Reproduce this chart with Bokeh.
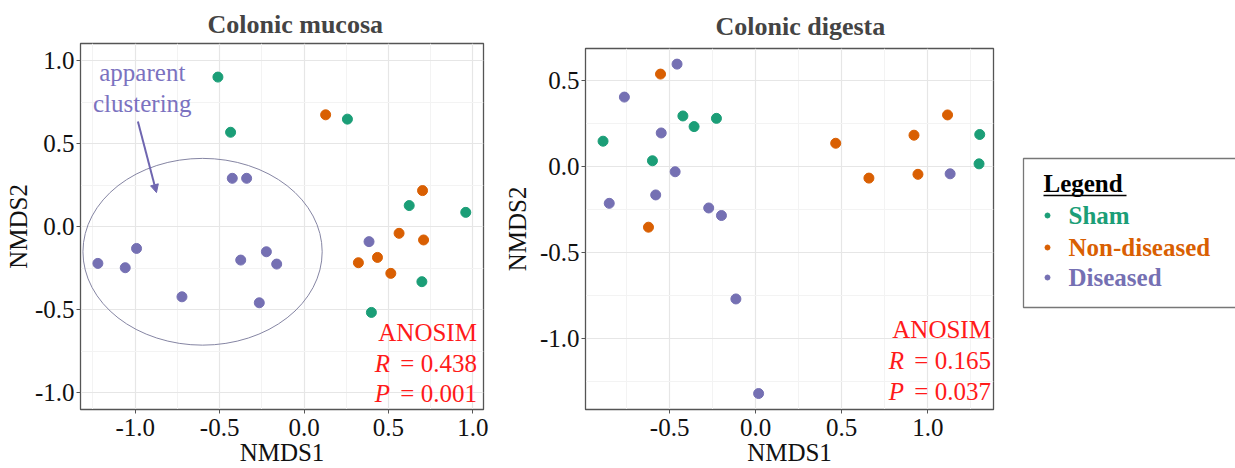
from bokeh.plotting import figure
from bokeh.layouts import row, column
from bokeh.models import Range1d, FixedTicker, Arrow, NormalHead, Label
from bokeh.core.properties import value
from bokeh.embed import file_html
from bokeh.resources import INLINE

FONT = "Liberation Serif"

groups = ["Sham", "Non-diseased", "Diseased"]
colors = ["#1b9e77", "#d95f02", "#7570b3"]

# ---- Colonic mucosa (NMDS1, NMDS2) ----
muc_sham_x = [-0.510, -0.435, 0.257, 0.623, 0.958, 0.698, 0.399]
muc_sham_y = [0.900, 0.568, 0.647, 0.127, 0.086, -0.331, -0.516]
muc_non_x = [0.128, 0.702, 0.563, 0.708, 0.322, 0.435, 0.514]
muc_non_y = [0.673, 0.217, -0.040, -0.080, -0.217, -0.185, -0.281]
muc_dis_x = [-0.425, -0.340, 0.385, -0.992, -1.221, -1.059, -0.723, -0.375, -0.223, -0.162, -0.265]
muc_dis_y = [0.291, 0.291, -0.090, -0.131, -0.221, -0.247, -0.422, -0.201, -0.151, -0.225, -0.458]

# ---- Colonic digesta ----
dig_sham_x = [-0.887, -0.600, -0.423, -0.358, -0.228, 1.302, 1.298]
dig_sham_y = [0.147, 0.033, 0.294, 0.232, 0.280, 0.186, 0.015]
dig_non_x = [-0.553, -0.623, 0.465, 0.658, 0.920, 0.943, 1.115]
dig_non_y = [0.538, -0.354, 0.135, -0.068, 0.182, -0.046, 0.300]
dig_dis_x = [-0.457, -0.763, -0.549, -0.468, -0.581, -0.851, -0.273, -0.199, -0.115, 0.017, 1.130]
dig_dis_y = [0.596, 0.404, 0.195, -0.031, -0.166, -0.215, -0.242, -0.286, -0.772, -1.323, -0.043]

# ticks
muc_xticks = [-1.0, -0.5, 0.0, 0.5, 1.0]
muc_xlabels = ["-1.0", "-0.5", "0.0", "0.5", "1.0"]
muc_yticks = [-1.0, -0.5, 0.0, 0.5, 1.0]
muc_ylabels = ["-1.0", "-0.5", "0.0", "0.5", "1.0"]
dig_xticks = [-0.5, 0.0, 0.5, 1.0]
dig_xlabels = ["-0.5", "0.0", "0.5", "1.0"]
dig_yticks = [-1.0, -0.5, 0.0, 0.5]
dig_ylabels = ["-1.0", "-0.5", "0.0", "0.5"]

# ANOSIM stats
muc_R, muc_P = "0.438", "0.001"
dig_R, dig_P = "0.165", "0.037"

# clustering ellipse (center x, center y, width, height) and note
ell_x, ell_y, ell_w, ell_h = -0.601, -0.151, 1.417, 1.124
note_lines = ["apparent", "clustering"]
note_x = -0.958
note_y = [0.928, 0.739]
arrow_start = (-0.984, 0.633)
arrow_end = (-0.874, 0.205)


def minors(ticks):
    return [t + 0.25 for t in ticks] + [ticks[0] - 0.25]


def make_panel(title, title_offset, title_standoff, xr, yr, xt, xl, yt, yl, width, borders,
               series, ylab_standoff):
    p = figure(width=width, height=468, output_backend="svg", toolbar_location=None,
               x_range=Range1d(*xr), y_range=Range1d(*yr),
               min_border_left=borders[0], min_border_right=borders[1],
               min_border_top=borders[2], min_border_bottom=borders[3])
    p.title.text = title
    p.title.text_font = FONT
    p.title.text_font_size = "26px"
    p.title.text_font_style = "bold"
    p.title.align = "left"
    p.title.offset = title_offset
    p.title.standoff = title_standoff
    p.outline_line_color = "#555555"
    p.outline_line_width = 1.3
    p.background_fill_color = "white"
    p.border_fill_color = "white"

    p.xaxis.ticker = FixedTicker(ticks=xt, minor_ticks=minors(xt))
    p.yaxis.ticker = FixedTicker(ticks=yt, minor_ticks=minors(yt))
    p.xaxis.major_label_overrides = {t: l for t, l in zip(xt, xl)}
    p.yaxis.major_label_overrides = {t: l for t, l in zip(yt, yl)}
    p.xaxis.axis_label = "NMDS1"
    p.yaxis.axis_label = "NMDS2"
    for ax in (p.xaxis[0], p.yaxis[0]):
        ax.axis_label_text_font = FONT
        ax.axis_label_text_font_size = "25px"
        ax.axis_label_text_font_style = "normal"
        ax.axis_label_text_color = "#111111"
        ax.major_label_text_font = FONT
        ax.major_label_text_font_size = "25px"
        ax.major_label_text_color = "#111111"
        ax.axis_line_color = "#555555"
        ax.major_tick_line_color = "#555555"
        ax.major_tick_out = 4
        ax.major_tick_in = 0
        ax.minor_tick_line_color = None
        ax.major_label_standoff = 2
    p.xaxis.major_label_standoff = 5
    p.xaxis.axis_label_standoff = 0
    p.yaxis.axis_label_standoff = ylab_standoff

    for g in (p.xgrid[0], p.ygrid[0]):
        g.grid_line_color = "#e6e6e6"
        g.grid_line_width = 1.2
        g.minor_grid_line_color = "#f3f3f3"
        g.minor_grid_line_width = 1.0

    for (xs, ys), c, name in zip(series, colors, groups):
        p.scatter(xs, ys, size=10, color=c, line_color=c, name=name)
    return p


def add_stats(p, x, ys, r, pv):
    common = dict(x=x, text_font=FONT, text_font_size="25px", text_color="#ff1a1a",
                  text_align="right", text_baseline="middle")
    p.add_layout(Label(y=ys[0], text="ANOSIM", **common))
    p.add_layout(Label(y=ys[1], text="= " + r, **common))
    p.add_layout(Label(y=ys[1], text="R", x_offset=-87, text_font_style="italic", **common))
    p.add_layout(Label(y=ys[2], text="= " + pv, **common))
    p.add_layout(Label(y=ys[2], text="P", x_offset=-87, text_font_style="italic", **common))


p1 = make_panel("Colonic mucosa", 127, 10, (-1.324, 1.063), (-1.10, 1.102),
                muc_xticks, muc_xlabels, muc_yticks, muc_ylabels,
                500, (80, 17, 43, 59),
                [(muc_sham_x, muc_sham_y), (muc_non_x, muc_non_y), (muc_dis_x, muc_dis_y)], 0)
p1.ellipse(x=[ell_x], y=[ell_y], width=[ell_w], height=[ell_h], fill_color=None,
           line_color="#8585a3", line_width=1)
p1.text(x=[note_x] * 2, y=note_y, text=note_lines, text_font=value(FONT),
        text_font_size="25px", text_color="#7b72c0", text_align="center", text_baseline="middle")
p1.add_layout(Arrow(end=NormalHead(size=8, fill_color="#6f66b0", line_color="#6f66b0"),
                    x_start=arrow_start[0], y_start=arrow_start[1],
                    x_end=arrow_end[0], y_end=arrow_end[1],
                    line_color="#6f66b0", line_width=2))
add_stats(p1, 1.024, [-0.635, -0.822, -1.003], muc_R, muc_P)

p2 = make_panel("Colonic digesta", 130, 15, (-0.989, 1.382), (-1.416, 0.687),
                dig_xticks, dig_xlabels, dig_yticks, dig_ylabels,
                500, (80, 7, 48, 58),
                [(dig_sham_x, dig_sham_y), (dig_non_x, dig_non_y), (dig_dis_x, dig_dis_y)], 6)
add_stats(p2, 1.367, [-0.952, -1.132, -1.310], dig_R, dig_P)

# ---- legend panel ----
p3 = figure(width=235, height=468, output_backend="svg", toolbar_location=None,
            x_range=Range1d(0, 235), y_range=Range1d(468, 0),
            min_border=0)
p3.axis.visible = False
p3.grid.visible = False
p3.outline_line_color = None
p3.quad(left=[23], right=[270], top=[158], bottom=[307], fill_color=None,
        line_color="#777777", line_width=1.3)
p3.text(x=[43], y=[183], text=["Legend"], text_font=value(FONT), text_font_size="25px",
        text_font_style="bold", text_color="black", text_align="left", text_baseline="middle")
p3.segment(x0=[43], y0=[195], x1=[126], y1=[195], line_color="black", line_width=1.5)
leg_y = [215, 247, 277]
p3.scatter(x=[47] * 3, y=leg_y, size=5, color=colors)
p3.text(x=[68] * 3, y=leg_y, text=groups, text_font=value(FONT), text_font_size="25px",
        text_font_style="bold", text_color=colors, text_align="left", text_baseline="middle")

layout = row(column(p1), column(p2), column(p3))
open("out.html", "w").write(file_html(layout, INLINE))
